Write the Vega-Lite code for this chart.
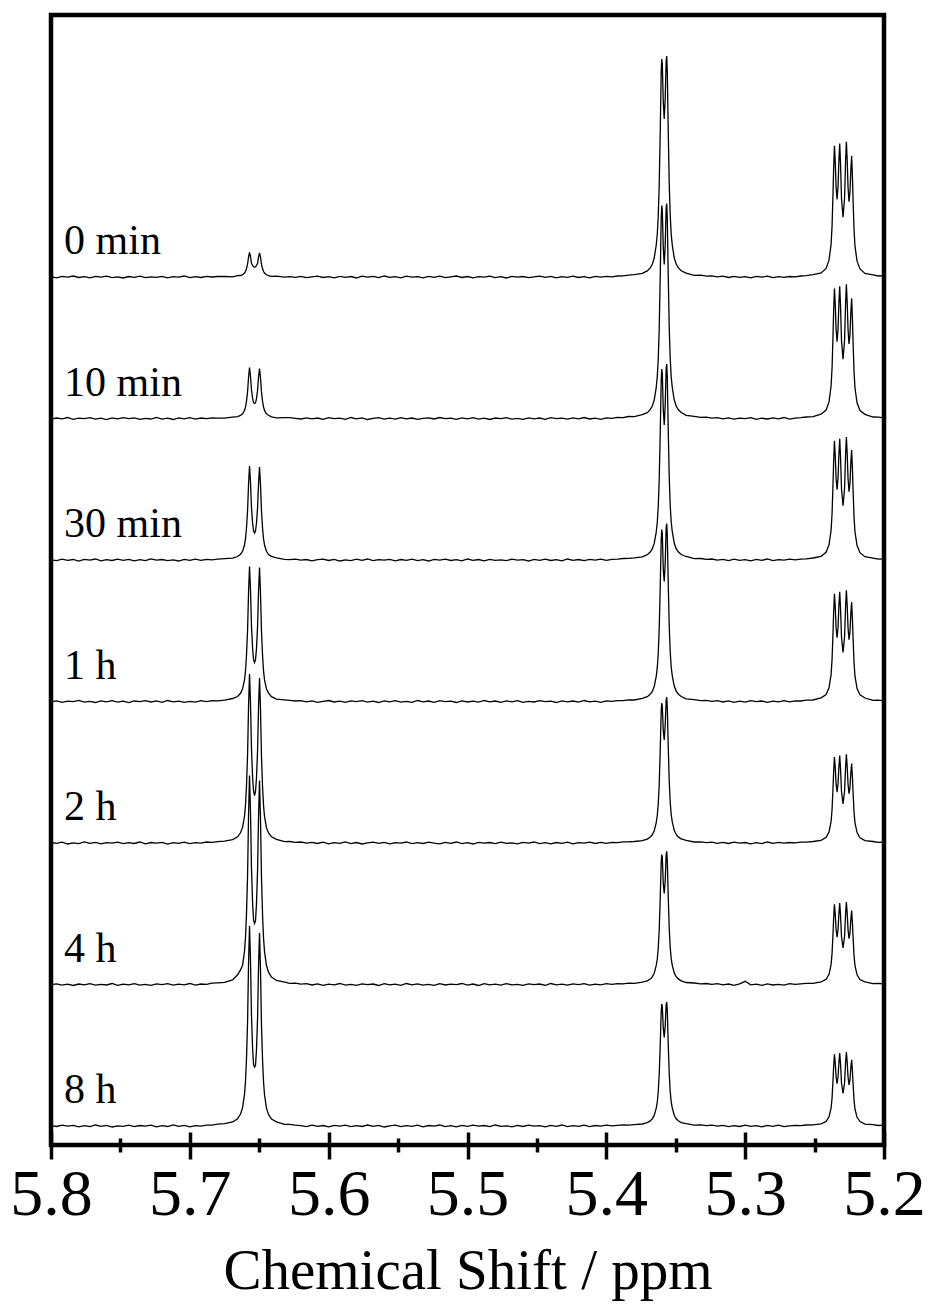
{
  "$schema": "https://vega.github.io/schema/vega-lite/v6.json",
  "width": 833,
  "height": 1130,
  "autosize": "none",
  "padding": {"left": 51, "top": 15, "right": 46, "bottom": 159},
  "background": "white",
  "config": {
    "view": {"stroke": "black", "strokeWidth": 4.5},
    "font": "Liberation Serif"
  },
  "data": {"values": [
    {"x":5.800,"a":0.4,"b":-0.6,"c":0.2,"d":-0.3,"e":0.5,"f":-0.2,"g":0.3},
    {"x":5.796,"a":-0.8,"b":0.5,"c":-0.7,"d":0.6,"e":-0.4,"f":0.7,"g":-0.5},
    {"x":5.792,"a":0.6,"b":-0.3,"c":0.9,"d":-0.9,"e":0.8,"f":-0.6,"g":0.9},
    {"x":5.788,"a":-0.2,"b":1.0,"c":-0.4,"d":0.4,"e":-1.0,"f":0.3,"g":-0.2},
    {"x":5.784,"a":1.0,"b":-0.9,"c":0.5,"d":-0.2,"e":0.2,"f":-1.0,"g":0.6},
    {"x":5.780,"a":-0.5,"b":0.3,"c":-1.1,"d":1.1,"e":-0.6,"f":0.5,"g":-0.9},
    {"x":5.776,"a":0.3,"b":-0.2,"c":0.6,"d":-0.6,"e":1.1,"f":-0.4,"g":0.4},
    {"x":5.772,"a":-0.9,"b":0.8,"c":-0.2,"d":0.2,"e":-0.3,"f":0.9,"g":-0.6},
    {"x":5.768,"a":0.7,"b":-0.7,"c":1.0,"d":-1.0,"e":0.6,"f":-0.7,"g":1.0},
    {"x":5.764,"a":-0.1,"b":0.4,"c":-0.8,"d":0.7,"e":-0.9,"f":0.2,"g":-0.3},
    {"x":5.760,"a":0.9,"b":-1.1,"c":0.3,"d":-0.4,"e":0.4,"f":-0.5,"g":0.7},
    {"x":5.756,"a":-0.6,"b":0.6,"c":-0.5,"d":0.9,"e":-0.2,"f":1.0,"g":-1.0},
    {"x":5.752,"a":0.2,"b":-0.4,"c":0.8,"d":-0.7,"e":0.9,"f":-0.8,"g":0.2},
    {"x":5.748,"a":-1.0,"b":0.9,"c":-0.3,"d":0.3,"e":-0.7,"f":0.4,"g":-0.4},
    {"x":5.744,"a":0.5,"b":-0.2,"c":0.7,"d":-1.1,"e":0.3,"f":-0.3,"g":0.8},
    {"x":5.740,"a":-0.3,"b":0.7,"c":-0.9,"d":0.5,"e":-0.5,"f":0.8,"g":-0.7},
    {"x":5.736,"a":0.8,"b":-0.8,"c":0.4,"d":-0.2,"e":1.0,"f":-0.6,"g":0.5},
    {"x":5.732,"a":-0.7,"b":0.2,"c":-0.6,"d":0.8,"e":-0.8,"f":0.1,"g":-0.2},
    {"x":5.728,"a":0.1,"b":-0.5,"c":1.1,"d":-0.5,"e":0.5,"f":-0.9,"g":0.9},
    {"x":5.724,"a":-0.4,"b":1.1,"c":-0.1,"d":0.6,"e":-0.1,"f":0.6,"g":-0.8},
    {"x":5.720,"a":0.6,"b":-0.6,"c":0.5,"d":-0.8,"e":0.7,"f":-0.2,"g":0.3},
    {"x":5.716,"a":-0.8,"b":0.3,"c":-0.7,"d":1.0,"e":-1.1,"f":0.9,"g":-0.5},
    {"x":5.712,"a":0.4,"b":-1.0,"c":0.2,"d":-0.3,"e":0.4,"f":-0.7,"g":1.1},
    {"x":5.708,"a":-0.2,"b":0.6,"c":-1.0,"d":0.4,"e":-0.4,"f":0.3,"g":-0.3},
    {"x":5.704,"a":1.0,"b":-0.3,"c":0.6,"d":-0.9,"e":0.8,"f":-0.4,"g":0.6},
    {"x":5.700,"a":-0.6,"b":0.8,"c":-0.3,"d":0.2,"e":-0.6,"f":1.0,"g":-0.9},
    {"x":5.696,"a":0.3,"b":-0.7,"c":0.9,"d":-0.6,"e":0.3,"f":-0.6,"g":0.4},
    {"x":5.692,"a":-0.5,"b":0.5,"c":-0.4,"d":0.9,"e":-0.2,"f":0.5,"g":-0.1},
    {"x":5.688,"a":0.7,"b":-0.2,"c":0.7,"d":-0.1,"e":1.0,"f":0.2,"g":0.8},
    {"x":5.684,"a":0.0,"b":0.7,"c":0.1,"d":0.8,"e":0.6,"f":1.3,"g":0.9},
    {"x":5.680,"a":0.5,"b":0.4,"c":0.9,"d":0.6,"e":1.4,"f":1.6,"g":1.8},

    {"x":5.6750,"a":0.5,"b":0.3,"c":1.3,"d":1.4,"e":1.9,"f":2.1,"g":2.3},
    {"x":5.6692,"a":0.2,"b":1.4,"c":1.9,"d":3.0,"e":3.4,"f":4.6,"g":4.0},
    {"x":5.6656,"a":1.3,"b":1.9,"c":3.5,"d":5.0,"e":6.2,"f":9.7,"g":7.3},
    {"x":5.6635,"a":1.5,"b":3.1,"c":5.7,"d":8.2,"e":10.2,"f":14.6,"g":12.0},
    {"x":5.6620,"a":2.3,"b":4.7,"c":8.8,"d":12.6,"e":15.6,"f":19.3,"g":18.4},
    {"x":5.6606,"a":4.0,"b":8.2,"c":15.2,"d":21.8,"e":27.0,"f":33.5,"g":31.9},
    {"x":5.6599,"a":5.6,"b":11.5,"c":21.3,"d":30.7,"e":38.1,"f":47.1,"g":44.9},
    {"x":5.6592,"a":8.3,"b":17.2,"c":31.8,"d":45.7,"e":56.6,"f":70.1,"g":66.8},
    {"x":5.6584,"a":13.0,"b":26.9,"c":49.7,"d":71.5,"e":88.6,"f":109.7,"g":104.5},
    {"x":5.6577,"a":20.0,"b":41.2,"c":76.2,"d":109.7,"e":137.5,"f":170.0,"g":163.0},
    {"x":5.6570,"a":24.5,"b":51.0,"c":94.0,"d":135.0,"e":169.0,"f":209.0,"g":200.0},
    {"x":5.6563,"a":20.4,"b":42.0,"c":77.8,"d":111.8,"e":139.5,"f":172.5,"g":165.0},
    {"x":5.6556,"a":13.8,"b":28.6,"c":52.8,"d":76.0,"e":94.2,"f":116.6,"g":111.1},
    {"x":5.6548,"a":11.5,"b":20.0,"c":37.0,"d":53.1,"e":65.9,"f":81.6,"g":77.7},
    {"x":5.6541,"a":10.2,"b":15.8,"c":29.2,"d":41.9,"e":52.0,"f":64.4,"g":61.3},
    {"x":5.6534,"a":9.8,"b":15.0,"c":27.0,"d":39.0,"e":47.5,"f":61.0,"g":59.0},
    {"x":5.6527,"a":10.2,"b":15.7,"c":29.0,"d":41.6,"e":51.5,"f":63.7,"g":60.5},
    {"x":5.6520,"a":11.5,"b":19.8,"c":36.7,"d":52.6,"e":65.0,"f":80.5,"g":76.0},
    {"x":5.6512,"a":13.8,"b":28.4,"c":52.3,"d":75.3,"e":92.5,"f":114.5,"g":108.0},
    {"x":5.6505,"a":20.2,"b":41.6,"c":77.0,"d":110.7,"e":136.5,"f":168.5,"g":160.0},
    {"x":5.6498,"a":24.0,"b":50.0,"c":93.0,"d":134.0,"e":165.0,"f":204.0,"g":193.0},
    {"x":5.6491,"a":19.8,"b":40.8,"c":75.4,"d":108.6,"e":133.5,"f":165.0,"g":156.0},
    {"x":5.6484,"a":12.9,"b":26.6,"c":49.2,"d":70.8,"e":87.0,"f":107.5,"g":101.5},
    {"x":5.6476,"a":8.2,"b":17.0,"c":31.5,"d":45.2,"e":55.5,"f":68.7,"g":65.0},
    {"x":5.6469,"a":5.5,"b":11.4,"c":21.1,"d":30.4,"e":37.4,"f":46.2,"g":43.7},
    {"x":5.6462,"a":4.0,"b":8.1,"c":15.0,"d":21.6,"e":26.5,"f":32.8,"g":31.0},
    {"x":5.6448,"a":2.2,"b":4.6,"c":8.7,"d":12.5,"e":15.3,"f":18.9,"g":17.9},
    {"x":5.6433,"a":1.3,"b":3.2,"c":5.4,"d":8.4,"e":10.0,"f":12.3,"g":11.6},
    {"x":5.6412,"a":0.6,"b":1.7,"c":3.7,"d":4.8,"e":6.3,"f":7.5,"g":7.0},
    {"x":5.6376,"a":0.9,"b":0.7,"c":2.1,"d":2.4,"e":3.6,"f":4.0,"g":4.2},
    {"x":5.6318,"a":-0.2,"b":0.8,"c":0.7,"d":1.7,"e":1.4,"f":2.3,"g":1.6},

    {"x":5.628,"a":0.3,"b":0.9,"c":0.4,"d":1.2,"e":1.5,"f":1.1,"g":1.7},
    {"x":5.624,"a":-0.4,"b":0.2,"c":0.8,"d":0.5,"e":0.6,"f":1.4,"g":0.9},
    {"x":5.620,"a":0.6,"b":-0.5,"c":-0.2,"d":0.9,"e":1.0,"f":0.3,"g":0.4},
    {"x":5.616,"a":-0.7,"b":0.7,"c":0.5,"d":-0.4,"e":-0.2,"f":0.9,"g":-0.6},
    {"x":5.612,"a":0.2,"b":-0.3,"c":-0.8,"d":0.6,"e":0.7,"f":-0.5,"g":0.8},
    {"x":5.608,"a":0.9,"b":0.5,"c":0.3,"d":-0.8,"e":-0.5,"f":0.6,"g":-0.3},
    {"x":5.604,"a":-0.5,"b":-0.9,"c":0.9,"d":0.2,"e":0.9,"f":-0.8,"g":0.5},
    {"x":5.600,"a":0.4,"b":0.8,"c":-0.5,"d":1.0,"e":-0.8,"f":0.4,"g":-0.9},
    {"x":5.596,"a":-0.9,"b":-0.2,"c":0.6,"d":-0.5,"e":0.3,"f":-0.3,"g":0.7},
    {"x":5.592,"a":0.7,"b":0.4,"c":-1.0,"d":0.3,"e":-0.4,"f":1.0,"g":-0.2},
    {"x":5.588,"a":-0.3,"b":-0.8,"c":0.2,"d":-0.9,"e":1.1,"f":-0.7,"g":0.9},
    {"x":5.584,"a":0.5,"b":1.0,"c":-0.6,"d":0.7,"e":-0.6,"f":0.2,"g":-0.7},
    {"x":5.580,"a":-1.0,"b":-0.4,"c":0.8,"d":-0.2,"e":0.5,"f":-0.9,"g":0.3},
    {"x":5.576,"a":0.8,"b":0.6,"c":-0.3,"d":0.9,"e":-1.0,"f":0.7,"g":-0.5},
    {"x":5.572,"a":-0.2,"b":-1.0,"c":1.0,"d":-0.7,"e":0.2,"f":-0.2,"g":1.0},
    {"x":5.568,"a":0.6,"b":0.2,"c":-0.7,"d":0.4,"e":0.8,"f":0.5,"g":-0.4},
    {"x":5.564,"a":-0.6,"b":0.9,"c":0.4,"d":-1.0,"e":-0.3,"f":-1.0,"g":0.6},
    {"x":5.560,"a":1.0,"b":-0.6,"c":-0.2,"d":0.6,"e":0.6,"f":0.8,"g":-1.0},
    {"x":5.556,"a":-0.4,"b":0.3,"c":0.7,"d":-0.3,"e":-0.9,"f":-0.4,"g":0.2},
    {"x":5.552,"a":0.3,"b":-0.7,"c":-0.9,"d":0.8,"e":0.4,"f":0.3,"g":0.8},
    {"x":5.548,"a":-0.8,"b":0.8,"c":0.5,"d":-0.6,"e":-0.2,"f":-0.8,"g":-0.6},
    {"x":5.544,"a":0.9,"b":-0.3,"c":-0.4,"d":0.2,"e":1.0,"f":1.0,"g":0.4},
    {"x":5.540,"a":-0.1,"b":0.5,"c":0.9,"d":-0.9,"e":-0.7,"f":-0.3,"g":-0.3},
    {"x":5.536,"a":0.4,"b":-0.9,"c":-0.6,"d":1.0,"e":0.3,"f":0.6,"g":0.9},
    {"x":5.532,"a":-0.9,"b":0.1,"c":0.3,"d":-0.4,"e":-0.5,"f":-0.6,"g":-0.8},
    {"x":5.528,"a":0.6,"b":0.7,"c":-1.0,"d":0.5,"e":0.9,"f":0.2,"g":0.5},
    {"x":5.524,"a":-0.3,"b":-0.5,"c":0.6,"d":-0.8,"e":-0.1,"f":-0.9,"g":-0.2},
    {"x":5.520,"a":0.8,"b":1.0,"c":-0.2,"d":0.9,"e":-0.8,"f":0.9,"g":1.0},
    {"x":5.516,"a":-0.7,"b":-0.2,"c":0.8,"d":-0.2,"e":0.6,"f":-0.5,"g":-0.6},
    {"x":5.512,"a":0.2,"b":0.4,"c":-0.5,"d":0.4,"e":-0.3,"f":0.4,"g":0.3},
    {"x":5.508,"a":1.0,"b":-0.8,"c":0.4,"d":-1.0,"e":1.0,"f":-0.2,"g":-0.9},
    {"x":5.504,"a":-0.5,"b":0.6,"c":-0.8,"d":0.7,"e":-0.6,"f":1.0,"g":0.6},
    {"x":5.500,"a":0.5,"b":-0.4,"c":1.0,"d":-0.5,"e":0.4,"f":-0.7,"g":-0.4},
    {"x":5.496,"a":-0.8,"b":0.9,"c":-0.3,"d":0.3,"e":-1.0,"f":0.5,"g":0.8},
    {"x":5.492,"a":0.3,"b":-0.7,"c":0.5,"d":-0.7,"e":0.7,"f":-1.0,"g":-0.1},
    {"x":5.488,"a":-0.2,"b":0.3,"c":-0.9,"d":1.0,"e":-0.2,"f":0.8,"g":0.5},
    {"x":5.484,"a":0.9,"b":-1.0,"c":0.7,"d":-0.3,"e":0.5,"f":-0.3,"g":-0.7},
    {"x":5.480,"a":-0.6,"b":0.5,"c":-0.4,"d":0.5,"e":-0.7,"f":0.3,"g":1.0},
    {"x":5.476,"a":0.4,"b":-0.2,"c":0.2,"d":-0.9,"e":0.9,"f":-0.6,"g":-0.3},
    {"x":5.472,"a":-1.0,"b":0.8,"c":-0.7,"d":0.6,"e":-0.4,"f":0.9,"g":0.2},
    {"x":5.468,"a":0.7,"b":-0.6,"c":0.9,"d":-0.4,"e":0.2,"f":-0.4,"g":-0.8},
    {"x":5.464,"a":-0.2,"b":0.2,"c":-0.2,"d":0.8,"e":-0.9,"f":0.2,"g":0.7},
    {"x":5.460,"a":0.5,"b":-0.9,"c":0.4,"d":-0.8,"e":0.6,"f":-0.9,"g":-0.5},
    {"x":5.456,"a":-0.7,"b":0.7,"c":-1.0,"d":0.2,"e":-0.1,"f":0.7,"g":0.9},
    {"x":5.452,"a":0.2,"b":-0.3,"c":0.6,"d":-0.5,"e":1.0,"f":-0.2,"g":-0.2},
    {"x":5.448,"a":0.9,"b":0.5,"c":-0.3,"d":0.9,"e":-0.6,"f":0.5,"g":0.4},
    {"x":5.444,"a":-0.4,"b":-0.8,"c":0.8,"d":-0.2,"e":0.3,"f":-0.8,"g":-0.9},
    {"x":5.440,"a":0.6,"b":0.9,"c":-0.5,"d":0.4,"e":-0.8,"f":1.0,"g":0.6},
    {"x":5.436,"a":-0.9,"b":-0.2,"c":0.3,"d":-1.0,"e":0.5,"f":-0.3,"g":-0.4},
    {"x":5.432,"a":0.3,"b":0.4,"c":-0.8,"d":0.7,"e":-0.3,"f":0.4,"g":1.0},
    {"x":5.428,"a":-0.3,"b":-0.7,"c":1.0,"d":-0.3,"e":0.8,"f":-0.7,"g":-0.6},
    {"x":5.424,"a":0.8,"b":0.6,"c":-0.4,"d":0.5,"e":-0.9,"f":0.6,"g":0.3},
    {"x":5.420,"a":-0.5,"b":-0.4,"c":0.5,"d":-0.7,"e":0.4,"f":-0.1,"g":-0.3},
    {"x":5.416,"a":0.4,"b":1.0,"c":-0.6,"d":1.0,"e":-0.2,"f":0.9,"g":0.8},
    {"x":5.412,"a":-0.8,"b":-0.5,"c":0.7,"d":-0.4,"e":0.9,"f":-0.6,"g":-0.7},
    {"x":5.408,"a":0.6,"b":0.3,"c":-0.2,"d":0.3,"e":-0.5,"f":0.3,"g":0.5},
    {"x":5.404,"a":-0.1,"b":-0.9,"c":0.9,"d":-0.8,"e":0.6,"f":-0.4,"g":-0.2},
    {"x":5.400,"a":0.7,"b":0.6,"c":-0.3,"d":0.6,"e":-0.4,"f":0.8,"g":0.9},
    {"x":5.396,"a":0.2,"b":0.1,"c":0.6,"d":0.1,"e":0.7,"f":0.1,"g":0.2},
    {"x":5.392,"a":1.0,"b":1.2,"c":0.8,"d":0.9,"e":0.3,"f":0.9,"g":0.6},
    {"x":5.388,"a":1.2,"b":0.9,"c":1.5,"d":0.8,"e":1.2,"f":0.6,"g":1.1},
    {"x":5.384,"a":1.9,"b":2.0,"c":1.6,"d":1.7,"e":1.1,"f":1.3,"g":0.9},

    {"x":5.3799,"a":2.4,"b":1.9,"c":2.1,"d":1.5,"e":1.5,"f":1.1,"g":1.3},
    {"x":5.3741,"a":3.6,"b":3.9,"c":3.1,"d":3.1,"e":2.3,"f":2.4,"g":2.0},
    {"x":5.3705,"a":6.1,"b":5.9,"c":5.3,"d":4.8,"e":3.9,"f":3.6,"g":3.4},
    {"x":5.3684,"a":9.1,"b":8.9,"c":8.0,"d":7.2,"e":5.9,"f":5.4,"g":5.1},
    {"x":5.3669,"a":12.7,"b":12.4,"c":11.1,"d":10.0,"e":8.2,"f":7.6,"g":7.1},
    {"x":5.3655,"a":19.0,"b":18.5,"c":16.6,"d":15.0,"e":12.2,"f":11.3,"g":10.6},
    {"x":5.3641,"a":31.5,"b":30.7,"c":27.6,"d":24.8,"e":20.2,"f":18.8,"g":17.6},
    {"x":5.3633,"a":42.8,"b":41.9,"c":37.5,"d":33.8,"e":27.5,"f":25.5,"g":24.0},
    {"x":5.3626,"a":61.2,"b":59.8,"c":53.7,"d":48.3,"e":39.3,"f":36.5,"g":34.3},
    {"x":5.3619,"a":92.3,"b":90.2,"c":80.9,"d":72.9,"e":59.3,"f":55.0,"g":51.7},
    {"x":5.3612,"a":143.5,"b":140.2,"c":125.7,"d":113.2,"e":92.1,"f":85.5,"g":80.3},
    {"x":5.3605,"a":203.4,"b":198.7,"c":178.2,"d":160.5,"e":130.6,"f":121.2,"g":113.8},
    {"x":5.3601,"a":218.0,"b":213.0,"c":191.0,"d":172.0,"e":140.0,"f":130.0,"g":122.0},
    {"x":5.3597,"a":213.3,"b":208.4,"c":186.9,"d":168.3,"e":136.9,"f":127.1,"g":119.4},
    {"x":5.3590,"a":175.8,"b":171.7,"c":151.0,"d":133.0,"e":112.8,"f":101.0,"g":98.4},
    {"x":5.3583,"a":158.1,"b":154.1,"c":135.0,"d":120.0,"e":103.0,"f":91.0,"g":88.6},
    {"x":5.3576,"a":178.2,"b":173.3,"c":155.0,"d":138.0,"e":117.7,"f":103.5,"g":99.9},
    {"x":5.3569,"a":216.2,"b":210.4,"c":191.7,"d":174.2,"e":142.9,"f":130.2,"g":121.3},
    {"x":5.3565,"a":221.0,"b":215.0,"c":196.0,"d":178.0,"e":146.0,"f":133.1,"g":124.0},
    {"x":5.3561,"a":206.2,"b":200.7,"c":182.8,"d":166.1,"e":136.3,"f":124.1,"g":115.7},
    {"x":5.3554,"a":145.5,"b":141.6,"c":129.0,"d":117.2,"e":96.1,"f":87.6,"g":81.6},
    {"x":5.3547,"a":93.6,"b":91.1,"c":83.0,"d":75.4,"e":61.8,"f":56.3,"g":52.5},
    {"x":5.3540,"a":62.1,"b":60.4,"c":55.0,"d":50.0,"e":41.0,"f":37.4,"g":34.8},
    {"x":5.3533,"a":43.4,"b":42.3,"c":38.5,"d":35.0,"e":28.7,"f":26.1,"g":24.4},
    {"x":5.3525,"a":31.9,"b":31.0,"c":28.3,"d":25.7,"e":21.1,"f":19.2,"g":17.9},
    {"x":5.3511,"a":19.2,"b":18.7,"c":17.0,"d":15.5,"e":12.7,"f":11.6,"g":10.8},
    {"x":5.3497,"a":12.9,"b":12.5,"c":11.4,"d":10.4,"e":8.5,"f":7.8,"g":7.2},
    {"x":5.3482,"a":9.3,"b":9.0,"c":8.2,"d":7.5,"e":6.1,"f":5.6,"g":5.2},
    {"x":5.3461,"a":6.2,"b":6.0,"c":5.5,"d":5.0,"e":4.1,"f":3.7,"g":3.4},
    {"x":5.3425,"a":3.9,"b":3.2,"c":3.5,"d":2.6,"e":2.6,"f":2.0,"g":2.3},
    {"x":5.3367,"a":1.6,"b":2.2,"c":1.4,"d":1.9,"e":1.0,"f":1.5,"g":0.9},

    {"x":5.332,"a":1.8,"b":1.2,"c":1.5,"d":0.8,"e":1.1,"f":0.7,"g":1.2},
    {"x":5.328,"a":0.9,"b":1.4,"c":0.6,"d":1.2,"e":0.4,"f":1.0,"g":0.3},
    {"x":5.324,"a":1.2,"b":0.3,"c":1.0,"d":0.2,"e":0.9,"f":0.2,"g":0.8},
    {"x":5.320,"a":0.2,"b":0.9,"c":-0.2,"d":0.8,"e":-0.3,"f":0.8,"g":-0.2},
    {"x":5.316,"a":0.8,"b":-0.4,"c":0.7,"d":-0.5,"e":0.6,"f":-0.4,"g":0.6},
    {"x":5.312,"a":-0.5,"b":0.6,"c":-0.6,"d":0.6,"e":-0.5,"f":0.5,"g":-0.7},
    {"x":5.308,"a":0.6,"b":-0.7,"c":0.9,"d":-0.8,"e":0.8,"f":-0.8,"g":0.4},
    {"x":5.304,"a":-0.3,"b":0.4,"c":-0.4,"d":0.3,"e":-0.2,"f":0.6,"g":-0.5},
    {"x":5.300,"a":0.4,"b":-0.2,"c":0.3,"d":-0.6,"e":0.5,"f":3.2,"g":0.9},
    {"x":5.296,"a":-0.8,"b":0.8,"c":-0.8,"d":0.9,"e":-0.9,"f":-0.3,"g":-0.4},
    {"x":5.292,"a":0.7,"b":-0.9,"c":0.6,"d":-0.2,"e":0.3,"f":0.4,"g":0.3},
    {"x":5.288,"a":-0.2,"b":0.3,"c":-0.3,"d":0.5,"e":-0.6,"f":-0.9,"g":-0.8},
    {"x":5.284,"a":0.9,"b":-0.5,"c":1.0,"d":-0.9,"e":1.0,"f":0.7,"g":0.7},
    {"x":5.280,"a":-0.6,"b":0.7,"c":-0.7,"d":0.4,"e":-0.4,"f":-0.5,"g":-0.3},
    {"x":5.276,"a":0.3,"b":-0.3,"c":0.4,"d":-0.4,"e":0.7,"f":0.2,"g":0.9},
    {"x":5.272,"a":-0.4,"b":1.0,"c":-0.2,"d":0.8,"e":-0.1,"f":-0.6,"g":-0.6},
    {"x":5.268,"a":0.5,"b":-0.6,"c":0.8,"d":-0.3,"e":0.5,"f":0.8,"g":0.2},
    {"x":5.264,"a":0.2,"b":0.4,"c":0.1,"d":0.6,"e":0.2,"f":0.1,"g":0.6},
    {"x":5.260,"a":1.0,"b":0.8,"c":0.9,"d":0.5,"e":0.9,"f":0.7,"g":0.3},
    {"x":5.256,"a":1.3,"b":1.5,"c":1.2,"d":1.4,"e":0.8,"f":1.1,"g":1.0},

    {"x":5.2511,"a":2.3,"b":1.9,"c":2.0,"d":1.5,"e":1.5,"f":1.1,"g":1.2},
    {"x":5.2453,"a":4.0,"b":4.3,"c":3.7,"d":3.6,"e":2.6,"f":2.7,"g":2.2},
    {"x":5.2417,"a":8.5,"b":8.4,"c":7.7,"d":7.0,"e":5.6,"f":5.2,"g":4.6},
    {"x":5.2396,"a":16.8,"b":16.6,"c":15.2,"d":13.8,"e":11.0,"f":10.2,"g":9.2},
    {"x":5.2381,"a":32.9,"b":32.7,"c":29.9,"d":27.1,"e":21.6,"f":20.1,"g":18.0},
    {"x":5.2374,"a":51.4,"b":51.0,"c":46.7,"d":42.2,"e":33.7,"f":31.4,"g":28.1},
    {"x":5.2367,"a":84.9,"b":84.2,"c":77.1,"d":69.7,"e":55.7,"f":51.8,"g":46.4},
    {"x":5.2363,"a":106.9,"b":106.1,"c":97.1,"d":87.8,"e":70.1,"f":65.2,"g":58.4},
    {"x":5.2357,"a":131.2,"b":130.1,"c":119.2,"d":107.8,"e":86.0,"f":80.1,"g":71.7},
    {"x":5.2351,"a":114.7,"b":113.8,"c":104.2,"d":94.2,"e":75.2,"f":70.0,"g":62.7},
    {"x":5.2345,"a":89.6,"b":88.9,"c":81.4,"d":73.6,"e":58.8,"f":54.7,"g":49.0},
    {"x":5.2338,"a":77.5,"b":76.9,"c":70.4,"d":63.7,"e":50.9,"f":47.3,"g":42.4},
    {"x":5.2331,"a":90.1,"b":89.4,"c":81.9,"d":74.0,"e":59.1,"f":55.0,"g":49.2},
    {"x":5.2325,"a":115.6,"b":114.7,"c":105.0,"d":95.0,"e":75.8,"f":70.5,"g":63.2},
    {"x":5.2319,"a":133.4,"b":132.3,"c":121.2,"d":109.6,"e":87.5,"f":81.4,"g":72.9},
    {"x":5.2313,"a":112.8,"b":111.9,"c":102.5,"d":92.7,"e":74.0,"f":68.9,"g":61.7},
    {"x":5.2306,"a":78.1,"b":77.5,"c":71.0,"d":64.2,"e":51.2,"f":47.7,"g":42.7},
    {"x":5.2295,"a":59.7,"b":59.3,"c":54.3,"d":49.1,"e":39.2,"f":36.5,"g":32.6},
    {"x":5.2284,"a":78.8,"b":78.2,"c":71.6,"d":64.8,"e":51.7,"f":48.1,"g":43.1},
    {"x":5.2277,"a":114.4,"b":113.5,"c":103.9,"d":94.0,"e":75.0,"f":69.8,"g":62.5},
    {"x":5.2271,"a":135.2,"b":134.2,"c":122.9,"d":111.1,"e":88.7,"f":82.5,"g":73.9},
    {"x":5.2265,"a":116.5,"b":115.6,"c":105.9,"d":95.7,"e":76.4,"f":71.1,"g":63.7},
    {"x":5.2259,"a":89.7,"b":89.0,"c":81.5,"d":73.7,"e":58.8,"f":54.7,"g":49.0},
    {"x":5.2252,"a":75.2,"b":74.6,"c":68.3,"d":61.8,"e":49.3,"f":45.9,"g":41.1},
    {"x":5.2245,"a":84.5,"b":83.9,"c":76.8,"d":69.4,"e":55.4,"f":51.6,"g":46.2},
    {"x":5.2239,"a":106.6,"b":105.8,"c":96.9,"d":87.6,"e":69.9,"f":65.1,"g":58.3},
    {"x":5.2233,"a":121.1,"b":120.1,"c":110.0,"d":99.5,"e":79.4,"f":73.9,"g":66.2},
    {"x":5.2227,"a":98.6,"b":97.9,"c":89.6,"d":81.0,"e":64.7,"f":60.2,"g":53.9},
    {"x":5.2223,"a":78.4,"b":77.8,"c":71.3,"d":64.4,"e":51.5,"f":47.9,"g":42.9},
    {"x":5.2216,"a":47.7,"b":47.4,"c":43.4,"d":39.2,"e":31.3,"f":29.1,"g":26.1},
    {"x":5.2209,"a":30.8,"b":30.5,"c":28.0,"d":25.3,"e":20.2,"f":18.8,"g":16.8},
    {"x":5.2194,"a":15.8,"b":15.7,"c":14.4,"d":13.0,"e":10.4,"f":9.7,"g":8.7},
    {"x":5.2173,"a":8.1,"b":8.0,"c":7.3,"d":6.6,"e":5.3,"f":4.9,"g":4.4},
    {"x":5.2137,"a":3.6,"b":4.2,"c":3.3,"d":3.5,"e":2.4,"f":2.7,"g":1.9},
    {"x":5.2079,"a":2.1,"b":1.5,"c":1.9,"d":1.2,"e":1.5,"f":0.9,"g":1.3},

    {"x":5.204,"a":1.0,"b":1.4,"c":0.8,"d":1.3,"e":0.6,"f":1.2,"g":0.5},
    {"x":5.200,"a":1.3,"b":0.7,"c":1.2,"d":0.6,"e":1.0,"f":0.5,"g":0.9}
  ]},
  "encoding": {
    "x": {
      "field": "x", "type": "quantitative",
      "scale": {"domain": [5.2, 5.8], "reverse": true, "nice": false, "zero": false},
      "axis": {
        "orient": "bottom",
        "values": [5.2, 5.25, 5.3, 5.35, 5.4, 5.45, 5.5, 5.55, 5.6, 5.65, 5.7, 5.75, 5.8],
        "labelExpr": "abs(round(datum.value * 10) - datum.value * 10) > 0.25 ? '' : format(datum.value, '.1f')",
        "offset": -13, "domain": false, "grid": false,
        "tickSize": 27, "tickWidth": 3.5, "tickColor": "black", "tickCap": "butt",
        "tickDash": {"condition": {"test": "abs(round(datum.value * 10) - datum.value * 10) > 0.25", "value": [0, 6, 14, 10]}, "value": [40, 1]},
        "labelFont": "Liberation Serif", "labelFontSize": 66, "labelColor": "black",
        "labelPadding": 3, "labelFlush": false, "labelOverlap": false,
        "title": "Chemical Shift / ppm", "titleFont": "Liberation Serif", "titleFontSize": 57,
        "titleFontWeight": "normal", "titleColor": "black", "titlePadding": 16
      }
    }
  },
  "layer": [
    {"mark": {"type": "line", "color": "black", "strokeWidth": 1.3},
     "encoding": {"y": {"field": "g", "type": "quantitative", "scale": {"domain": [-19, 1111], "nice": false, "zero": false}, "axis": null}}},
    {"mark": {"type": "line", "color": "black", "strokeWidth": 1.3},
     "encoding": {"y": {"field": "f", "type": "quantitative", "scale": {"domain": [-160.5, 969.5], "nice": false, "zero": false}, "axis": null}}},
    {"mark": {"type": "line", "color": "black", "strokeWidth": 1.3},
     "encoding": {"y": {"field": "e", "type": "quantitative", "scale": {"domain": [-302, 828], "nice": false, "zero": false}, "axis": null}}},
    {"mark": {"type": "line", "color": "black", "strokeWidth": 1.3},
     "encoding": {"y": {"field": "d", "type": "quantitative", "scale": {"domain": [-443.5, 686.5], "nice": false, "zero": false}, "axis": null}}},
    {"mark": {"type": "line", "color": "black", "strokeWidth": 1.3},
     "encoding": {"y": {"field": "c", "type": "quantitative", "scale": {"domain": [-585, 545], "nice": false, "zero": false}, "axis": null}}},
    {"mark": {"type": "line", "color": "black", "strokeWidth": 1.3},
     "encoding": {"y": {"field": "b", "type": "quantitative", "scale": {"domain": [-726.5, 403.5], "nice": false, "zero": false}, "axis": null}}},
    {"mark": {"type": "line", "color": "black", "strokeWidth": 1.3},
     "encoding": {"y": {"field": "a", "type": "quantitative", "scale": {"domain": [-868, 262], "nice": false, "zero": false}, "axis": null}}},
    {"data": {"values": [{"label": "0 min", "x": 5.7906, "y": 23}]},
     "mark": {"type": "text", "align": "left", "baseline": "alphabetic", "font": "Liberation Serif", "fontSize": 42, "color": "black"},
     "encoding": {"y": {"field": "y", "type": "quantitative", "scale": {"domain": [-868, 262], "nice": false, "zero": false}, "axis": null}, "text": {"field": "label"}}},
    {"data": {"values": [{"label": "10 min", "x": 5.7906, "y": 23}]},
     "mark": {"type": "text", "align": "left", "baseline": "alphabetic", "font": "Liberation Serif", "fontSize": 42, "color": "black"},
     "encoding": {"y": {"field": "y", "type": "quantitative", "scale": {"domain": [-726.5, 403.5], "nice": false, "zero": false}, "axis": null}, "text": {"field": "label"}}},
    {"data": {"values": [{"label": "30 min", "x": 5.7906, "y": 23}]},
     "mark": {"type": "text", "align": "left", "baseline": "alphabetic", "font": "Liberation Serif", "fontSize": 42, "color": "black"},
     "encoding": {"y": {"field": "y", "type": "quantitative", "scale": {"domain": [-585, 545], "nice": false, "zero": false}, "axis": null}, "text": {"field": "label"}}},
    {"data": {"values": [{"label": "1 h", "x": 5.7906, "y": 23}]},
     "mark": {"type": "text", "align": "left", "baseline": "alphabetic", "font": "Liberation Serif", "fontSize": 42, "color": "black"},
     "encoding": {"y": {"field": "y", "type": "quantitative", "scale": {"domain": [-443.5, 686.5], "nice": false, "zero": false}, "axis": null}, "text": {"field": "label"}}},
    {"data": {"values": [{"label": "2 h", "x": 5.7906, "y": 23}]},
     "mark": {"type": "text", "align": "left", "baseline": "alphabetic", "font": "Liberation Serif", "fontSize": 42, "color": "black"},
     "encoding": {"y": {"field": "y", "type": "quantitative", "scale": {"domain": [-302, 828], "nice": false, "zero": false}, "axis": null}, "text": {"field": "label"}}},
    {"data": {"values": [{"label": "4 h", "x": 5.7906, "y": 23}]},
     "mark": {"type": "text", "align": "left", "baseline": "alphabetic", "font": "Liberation Serif", "fontSize": 42, "color": "black"},
     "encoding": {"y": {"field": "y", "type": "quantitative", "scale": {"domain": [-160.5, 969.5], "nice": false, "zero": false}, "axis": null}, "text": {"field": "label"}}},
    {"data": {"values": [{"label": "8 h", "x": 5.7906, "y": 23}]},
     "mark": {"type": "text", "align": "left", "baseline": "alphabetic", "font": "Liberation Serif", "fontSize": 42, "color": "black"},
     "encoding": {"y": {"field": "y", "type": "quantitative", "scale": {"domain": [-19, 1111], "nice": false, "zero": false}, "axis": null}, "text": {"field": "label"}}}
  ],
  "resolve": {"scale": {"y": "independent"}}
}
